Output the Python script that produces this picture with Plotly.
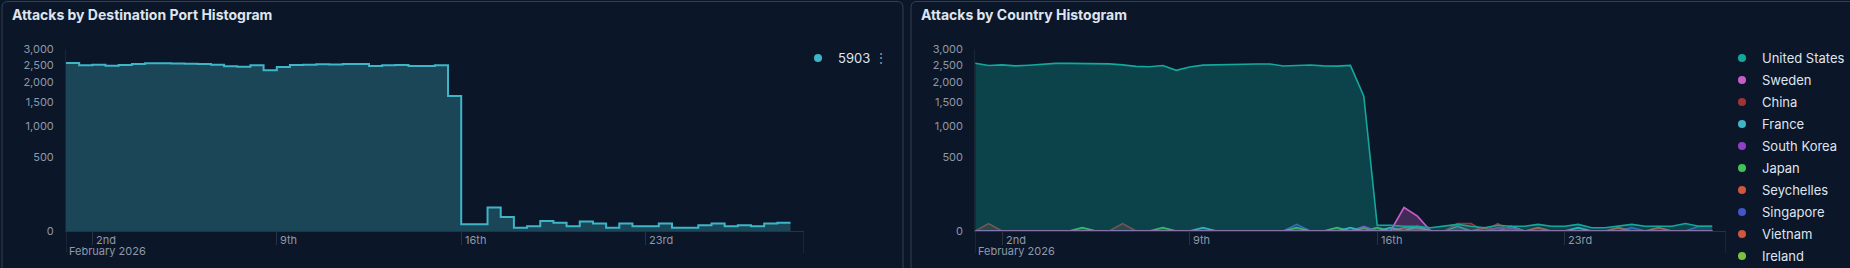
import numpy as np
import pandas as pd
import plotly.graph_objects as go

W, H = 1850, 268

# ---------------- data ----------------
bin_start = "2026-02-01 00:00"
n_points = 56
times = pd.date_range(bin_start, periods=n_points, freq="12h")

port_title = "Attacks by Destination Port Histogram"
country_title = "Attacks by Country Histogram"
port_label = "5903"
port_counts = [2556, 2485, 2505, 2475, 2495, 2526, 2546, 2548, 2544, 2536,
               2526, 2505, 2455, 2445, 2485, 2338, 2436, 2495, 2505, 2516,
               2514, 2526, 2524, 2465, 2485, 2495, 2465, 2463, 2485, 1651,
               4, 4, 50, 18, 1, 2, 9, 6, 2, 8,
               5, 1, 5, 2, 2, 5, 1, 1, 3, 5,
               2, 3, 2, 5, 6, 6]

countries = ["United States", "Sweden", "China", "France", "South Korea",
             "Japan", "Seychelles", "Singapore", "Vietnam", "Ireland"]
country_colors = ["#12a99c", "#c75dc9", "#a03434", "#3fb5c8", "#9040c8",
                  "#45c15a", "#cf5740", "#4455c8", "#cf5740", "#7cc043"]

us = [2550, 2480, 2500, 2470, 2490, 2525, 2545, 2545, 2540, 2535,
      2530, 2500, 2455, 2445, 2480, 2338, 2436, 2493, 2505, 2515,
      2515, 2528, 2528, 2465, 2480, 2495, 2470, 2462, 2484, 1645,
      3, 3, 2, 2, 1, 2, 4, 2, 1, 3,
      2, 2, 4, 2, 2, 4, 1, 1, 2, 4,
      2, 2, 2, 5, 2, 2]
sweden = [0, 0, 0, 0, 0, 0, 0, 0, 0, 0,
          0, 0, 0, 0, 0, 0, 0, 0, 0, 0,
          0, 0, 0, 0, 0, 0, 0, 0, 0, 0,
          0, 0, 50, 20, 0, 0, 0, 0, 0, 0,
          0, 0, 0, 0, 0, 0, 0, 0, 0, 0,
          0, 0, 0, 0, 0, 0]
china = [0, 5, 0, 0, 0, 0, 0, 0, 0, 0,
         0, 5, 0, 0, 0, 0, 0, 0, 0, 0,
         0, 0, 0, 0, 0, 0, 0, 0, 0, 0,
         0, 0, 0, 0, 0, 0, 5, 5, 0, 5,
         0, 0, 0, 0, 0, 0, 0, 0, 0, 0,
         0, 0, 0, 0, 0, 0]
france = [0, 0, 0, 0, 0, 0, 0, 0, 0, 0,
          0, 0, 0, 0, 0, 0, 0, 1, 0, 0,
          0, 0, 0, 0, 0, 0, 0, 0, 1, 0,
          0, 1, 0, 2, 0, 0, 2, 0, 0, 0,
          0, 0, 0, 0, 0, 1, 0, 0, 0, 0,
          0, 0, 0, 0, 0, 0]
south_korea = [0, 0, 0, 0, 0, 0, 0, 0, 0, 0,
               0, 0, 0, 0, 0, 0, 0, 0, 0, 0,
               0, 0, 0, 0, 0, 0, 0, 0, 0, 2,
               0, 0, 0, 0, 0, 0, 0, 0, 0, 1,
               1, 0, 0, 0, 0, 0, 0, 0, 0, 0,
               0, 0, 0, 0, 0, 0]
japan = [0, 0, 0, 0, 0, 0, 0, 0, 1, 0,
         0, 0, 0, 0, 1, 0, 0, 0, 0, 0,
         0, 0, 0, 0, 1, 0, 0, 1, 0, 0,
         1, 0, 0, 0, 0, 0, 0, 0, 0, 0,
         0, 0, 0, 0, 0, 0, 0, 0, 0, 0,
         0, 0, 0, 0, 0, 0]
seychelles = [0, 0, 0, 0, 0, 0, 0, 0, 0, 0,
              0, 0, 0, 0, 0, 0, 0, 0, 0, 0,
              0, 0, 0, 0, 0, 0, 0, 0, 0, 0,
              0, 0, 1, 1, 0, 0, 0, 0, 0, 0,
              0, 0, 1, 0, 0, 0, 0, 0, 1, 0,
              0, 0, 0, 0, 0, 0]
singapore = [0, 0, 0, 0, 0, 0, 0, 0, 0, 0,
             0, 0, 0, 0, 0, 0, 0, 0, 0, 0,
             0, 0, 0, 0, 4, 0, 0, 0, 0, 0,
             0, 0, 0, 0, 0, 0, 0, 0, 0, 1,
             1, 0, 0, 0, 0, 0, 0, 0, 0, 1,
             0, 0, 0, 0, 2, 2]
vietnam = [0, 0, 0, 0, 0, 0, 0, 0, 0, 0,
           0, 0, 0, 0, 0, 0, 0, 0, 0, 0,
           0, 0, 0, 0, 0, 0, 0, 0, 0, 0,
           0, 0, 0, 0, 0, 0, 0, 0, 1, 0,
           0, 0, 0, 0, 0, 0, 0, 0, 0, 0,
           0, 1, 0, 0, 0, 0]
ireland = [0, 0, 0, 0, 0, 0, 0, 0, 0, 0,
           0, 0, 0, 0, 0, 0, 0, 0, 0, 0,
           0, 0, 0, 0, 0, 0, 0, 0, 0, 1,
           0, 0, 0, 0, 0, 0, 0, 0, 0, 0,
           2, 0, 0, 0, 0, 0, 0, 0, 0, 0,
           0, 0, 0, 0, 0, 0]
country_series = [us, sweden, china, france, south_korea,
                  japan, seychelles, singapore, vietnam, ireland]

y_tick_values = [0, 500, 1000, 1500, 2000, 2500, 3000]
y_tick_labels = ["0", "500", "1,000", "1,500", "2,000", "2,500", "3,000"]
x_tick_dates = ["2026-02-02", "2026-02-09", "2026-02-16", "2026-02-23"]
x_tick_labels = ["2nd", "9th", "16th", "23rd"]
month_label = "February 2026"
x_start, x_end = "2026-02-01", "2026-03-01"

# ---------------- style ----------------
BG = "#0b1628"
BORDER = "#343f51"
AXIS = "#283241"
TITLE_C = "#dfe5ef"
TICK_C = "#8e99a9"
FONT = "Inter"


def px(x):
    return x / W


def py(y):
    return 1 - y / H


def rgba(hex_c, a):
    h = hex_c.lstrip("#")
    r, g, b = int(h[0:2], 16), int(h[2:4], 16), int(h[4:6], 16)
    return f"rgba({r},{g},{b},{a})"


def sq(v):
    return np.sqrt(np.asarray(v, dtype=float))


fig = go.Figure()

# Left: destination port step histogram
port_color = "#3fb5c8"
fig.add_trace(go.Scatter(
    x=times, y=sq(port_counts), mode="lines",
    line=dict(color=port_color, width=2, shape="hv"),
    fill="tozeroy", fillcolor=rgba(port_color, 0.3),
    showlegend=False, hoverinfo="skip", xaxis="x", yaxis="y"))
fig.add_trace(go.Scatter(
    x=[None], y=[None], mode="markers", name=port_label,
    marker=dict(color=port_color, size=8), legend="legend",
    xaxis="x", yaxis="y"))

# Right: country area chart (draw in reverse so first series is on top)
for name, col, vals in reversed(list(zip(countries, country_colors, country_series))):
    fig.add_trace(go.Scatter(
        x=times, y=sq(vals), mode="lines",
        line=dict(color=col, width=1.6),
        fill="tozeroy", fillcolor=rgba(col, 0.3),
        showlegend=False, hoverinfo="skip", xaxis="x2", yaxis="y2"))
for name, col in zip(countries, country_colors):
    fig.add_trace(go.Scatter(
        x=[None], y=[None], mode="markers", name=name, legendgroup=name,
        marker=dict(color=col, size=8), legend="legend2",
        xaxis="x2", yaxis="y2"))

y_dom = [py(231), py(49)]
common_x = dict(type="date", range=[x_start, x_end], showgrid=False,
                zeroline=False, showline=True, linecolor=AXIS, linewidth=1,
                tickvals=x_tick_dates, ticktext=[""] * 4, ticks="outside",
                ticklen=13, tickcolor=AXIS, tickwidth=1, showticklabels=False,
                fixedrange=True)
common_y = dict(range=[0, float(np.sqrt(3000))], showgrid=False, zeroline=False,
                showline=True, linecolor="#1a2535", linewidth=1,
                tickvals=list(sq(y_tick_values)), ticktext=y_tick_labels,
                ticks="", ticklabelstandoff=9,
                tickfont=dict(family=FONT, size=11, color=TICK_C),
                fixedrange=True, domain=y_dom)

fig.update_layout(
    width=W, height=H,
    margin=dict(l=0, r=0, t=0, b=0, pad=0, autoexpand=False),
    paper_bgcolor=BG, plot_bgcolor="rgba(0,0,0,0)",
    xaxis=dict(domain=[px(66), px(803.7)], anchor="y", **common_x),
    yaxis=dict(anchor="x", **common_y),
    xaxis2=dict(domain=[px(975.2), px(1725.6)], anchor="y2", **common_x),
    yaxis2=dict(anchor="x2", **common_y),
    legend=dict(x=px(798), y=py(43), xanchor="left", yanchor="top",
                bgcolor="rgba(0,0,0,0)", borderwidth=0,
                font=dict(family=FONT, size=13, color=TITLE_C)),
    legend2=dict(x=px(1722), y=py(43), xanchor="left", yanchor="top",
                 bgcolor="rgba(0,0,0,0)", borderwidth=0, tracegroupgap=2.1,
                 font=dict(family=FONT, size=13, color=TITLE_C)),
    showlegend=True,
)


def panel_path(x0, x1, y0, y1, r=6):
    return (f"M {px(x0)},{py(y1)} L {px(x0)},{py(y0 + r)} "
            f"Q {px(x0)},{py(y0)} {px(x0 + r)},{py(y0)} "
            f"L {px(x1 - r)},{py(y0)} Q {px(x1)},{py(y0)} {px(x1)},{py(y0 + r)} "
            f"L {px(x1)},{py(y1)}")


shapes = [
    dict(type="path", xref="paper", yref="paper", path=panel_path(2, 903, 1.5, 272),
         line=dict(color=BORDER, width=1), layer="below"),
    dict(type="path", xref="paper", yref="paper", path=panel_path(911, 1862, 1.5, 272),
         line=dict(color=BORDER, width=1), layer="below"),
]
for xr in ["x", "x2"]:
    for d in [x_start, x_end]:
        shapes.append(dict(type="line", xref=xr, yref="paper", x0=d, x1=d,
                           y0=py(231), y1=py(253), line=dict(color=AXIS, width=1)))
fig.update_layout(shapes=shapes)

annotations = [
    dict(text=f"<b>{port_title}</b>", xref="paper", yref="paper", x=px(10), y=py(14),
         xanchor="left", yanchor="middle", showarrow=False,
         font=dict(family=FONT, size=14, color=TITLE_C)),
    dict(text=f"<b>{country_title}</b>", xref="paper", yref="paper", x=px(919), y=py(14),
         xanchor="left", yanchor="middle", showarrow=False,
         font=dict(family=FONT, size=14, color=TITLE_C)),
    dict(text="⋮", xref="paper", yref="paper", x=px(881), y=py(57),
         xanchor="center", yanchor="middle", showarrow=False,
         font=dict(family=FONT, size=14, color="#8a94a3")),
]
for xr in ["x", "x2"]:
    for d, lab in zip(x_tick_dates, x_tick_labels):
        annotations.append(dict(text=lab, xref=xr, yref="paper", x=d, y=py(239.5),
                                xanchor="left", yanchor="middle", xshift=2.5,
                                showarrow=False, borderpad=0,
                                font=dict(family=FONT, size=11, color=TICK_C)))
    annotations.append(dict(text=month_label, xref=xr, yref="paper", x=x_start, y=py(251),
                            xanchor="left", yanchor="middle", xshift=1.5, showarrow=False,
                            borderpad=0,
                            font=dict(family=FONT, size=11, color=TICK_C)))
fig.update_layout(annotations=annotations)

fig.write_html("out.html")
